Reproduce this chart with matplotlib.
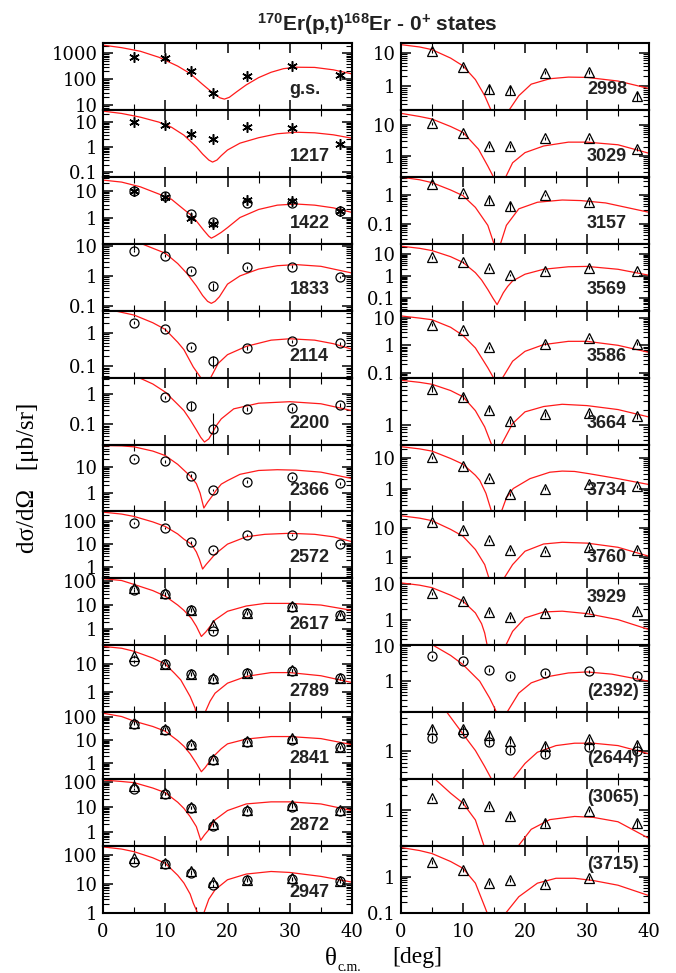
import numpy as np
import matplotlib
matplotlib.use("Agg")
import matplotlib.pyplot as plt
from matplotlib.ticker import LogLocator, NullFormatter, FuncFormatter, MultipleLocator

plt.rcParams["font.family"] = ["DejaVu Serif"]
plt.rcParams["mathtext.fontset"] = "custom"
plt.rcParams["mathtext.rm"] = "Liberation Serif"
plt.rcParams["mathtext.bf"] = "Liberation Sans:bold"

NAN = float("nan")

# measured c.m. angles (deg)
ANGLES = [5.0, 10.0, 14.2, 17.6, 23.2, 30.3, 38.0]

# ---------------- left column ----------------
gs_ylim = (6.5, 2500)
gs_ast = [750, 650, 200, 30, 130, 310, 150]
gs_th = [0, 3, 6, 9, 12, 14, 16, 17.6, 18.8, 19.5, 20.3, 21.5, 23, 25, 27, 29, 31, 34, 37, 40]
gs_fit = [2070, 1650, 1200, 700, 320, 165, 63, 30, 19, 17, 20, 33, 60, 115, 185, 255, 290, 285, 230, 160]

s1217_ylim = (0.065, 29)
s1217_ast = [10, 7.5, 3.1, 2.0, 6.0, 5.7, 1.25]
s1217_th = [0, 3, 6, 9, 11, 13, 15, 16, 17, 17.6, 18.3, 19, 20, 22, 25, 28, 31, 34, 37, 40]
s1217_fit = [26, 21, 15, 9.5, 6.0, 2.9, 1.0, 0.52, 0.3, 0.25, 0.3, 0.45, 0.75, 1.4, 2.3, 3.3, 3.8, 3.6, 3.0, 2.2]

s1422_ylim = (0.105, 33)
s1422_ast = [10, 6, 1.0, 0.56, 4.6, 4.2, 1.7]
s1422_circ = [10, 6.5, 1.4, 0.69, 3.4, 3.4, 1.7]
s1422_th = [0, 3, 6, 9, 11, 13, 14.2, 15.2, 16.2, 17, 17.4, 18, 19, 20, 22, 25, 28, 31, 34, 37, 40]
s1422_fit = [25, 21, 14, 7.5, 4.8, 2.0, 1.2, 0.65, 0.33, 0.2, 0.17, 0.2, 0.28, 0.42, 1.0, 2.0, 2.9, 3.2, 2.9, 2.3, 1.55]

s1833_ylim = (0.068, 12)
s1833_circ = [6.8, 4.8, 1.5, 0.46, 1.96, 2.05, 0.93]
s1833_err = [0.6, 0.45, 0.15, 0.13, 0.2, 0.2, 0.1]
s1833_th = [5, 6, 8, 10, 12, 13.5, 15, 16, 16.8, 17.4, 18, 18.7, 20, 22, 25, 28, 31, 35, 40]
s1833_fit = [15, 12.5, 8.5, 5.8, 2.6, 1.2, 0.46, 0.22, 0.14, 0.12, 0.14, 0.2, 0.53, 1.0, 1.7, 2.2, 2.4, 2.1, 1.25]

s2114_ylim = (0.045, 4.6)
s2114_circ = [2.0, 1.26, 0.37, 0.146, 0.35, 0.56, 0.49]
s2114_err = [0.2, 0.12, 0.04, 0.06, 0.04, 0.05, 0.05]
s2114_th = [0, 2, 5, 8, 10, 12, 13, 14.5, 15.7, 16.5, 17.3, 18.5, 20, 23, 27, 30, 34, 37, 40]
s2114_fit = [5.2, 4.5, 3.4, 2.0, 1.26, 0.52, 0.31, 0.094, 0.045, 0.005, 0.045, 0.12, 0.22, 0.39, 0.6, 0.66, 0.6, 0.47, 0.32]

s2200_ylim = (0.0215, 3.4)
s2200_circ = [NAN, 0.77, 0.41, 0.072, 0.32, 0.33, 0.43]
s2200_err = [NAN, 0.08, 0.12, 0.16, 0.05, 0.05, 0.05]
s2200_th = [5, 8, 10, 12, 13, 14, 15, 15.7, 16.3, 17, 17.5, 18.2, 19, 21, 25, 30, 35, 40]
s2200_fit = [4.0, 2.1, 1.14, 0.45, 0.28, 0.14, 0.065, 0.037, 0.026, 0.033, 0.049, 0.09, 0.15, 0.32, 0.49, 0.55, 0.47, 0.28]

s2366_ylim = (0.2, 71)
s2366_circ = [20, 16.4, 4.6, 1.33, 2.75, 4.0, 2.37]
s2366_th = [0, 3, 5, 8, 10, 12, 13, 14, 15, 15.6, 16.2, 16.8, 17.5, 18.2, 19, 20, 22, 25, 28, 31, 35, 40]
s2366_fit = [65, 63, 58, 40, 27, 12.5, 7.5, 4.5, 2.3, 1.0, 0.27, 0.45, 0.75, 1.3, 2.2, 3.0, 5.2, 7.3, 7.8, 7.5, 6.3, 3.6]

s2572_ylim = (0.31, 274)
s2572_circ = [85, 52, 11.8, 5.5, 24.8, 26, 10]
s2572_th = [0, 3, 5, 8, 10, 12, 13, 14.2, 15, 15.5, 16, 16.6, 17.2, 18, 20, 23, 26, 30, 34, 37, 40]
s2572_fit = [256, 210, 165, 95, 60, 28, 16.5, 10, 4.5, 2.1, 0.8, 1.3, 2.0, 3.6, 10, 21, 27, 30, 27, 21, 12.8]

s2617_ylim = (0.21, 129)
s2617_circ = [41, 27.6, 6, 0.8, 4.5, 8.2, 3.8]
s2617_tri = [52, 31, 6.5, 1.5, 4.8, 9, 4.0]
s2617_th = [0, 3, 5, 8, 10, 12, 13, 14.2, 15, 15.8, 16.5, 17, 18, 20, 23, 26, 30, 35, 40]
s2617_fit = [125, 105, 72, 40, 23.5, 10, 6, 2.8, 1.3, 0.49, 0.75, 1.1, 2.4, 5.5, 9.1, 11.7, 11.7, 10, 6]

s2789_ylim = (0.18, 46)
s2789_circ = [12.1, 9.7, 4.2, 2.8, 4.6, 5.7, 3.0]
s2789_tri = [18.4, 10, 4.4, 3.0, 4.8, 6.0, 3.1]
s2789_th = [0, 3, 5, 8, 10, 11.5, 12.5, 14, 14.8, 15.6, 16.5, 17.2, 18, 20, 23, 27, 30, 35, 40]
s2789_fit = [42, 36, 28, 16, 9.7, 4.5, 2.6, 0.66, 0.25, 0.02, 0.2, 0.45, 0.87, 2.0, 3.5, 4.8, 4.8, 3.7, 2.1]

s2841_ylim = (0.19, 154)
s2841_circ = [48, 27, 5.7, 1.3, 7.9, 10, 4.6]
s2841_tri = [55, 30, 6.2, 1.4, 8.3, 11.8, 4.8]
s2841_th = [0, 3, 5, 8, 10, 12, 13, 14, 15, 15.8, 16.4, 17, 17.7, 19, 20, 23, 27, 30, 35, 40]
s2841_fit = [140, 100, 63, 37, 23, 9, 5.1, 2.4, 0.93, 0.4, 0.6, 1.0, 1.8, 4.0, 6.5, 10.5, 13.5, 13.5, 11, 6]

s2872_ylim = (0.27, 124)
s2872_circ = [51, 32, 8.8, 1.7, 6.9, 10, 6.9]
s2872_tri = [67, 34, 9.5, 2.0, 7.5, 12, 7.3]
s2872_th = [0, 3, 5, 8, 10, 12, 13, 14, 15, 15.7, 16.3, 17, 18, 20, 23, 27, 30, 35, 40]
s2872_fit = [115, 100, 90, 55, 36, 15, 8.5, 4, 1.6, 0.46, 0.75, 1.2, 3.0, 7, 12.8, 15.5, 15.5, 12.8, 7]

s2947_ylim = (1, 203)
s2947_circ = [59, 49, 23.5, 9, 13.4, 14.8, 12.3]
s2947_tri = [77, 55, 27, 12, 14, 16, 13]
s2947_th = [0, 3, 5, 8, 10, 12, 13, 14, 14.5, 15.2, 15.7, 16.2, 17, 18, 20, 23, 27, 30, 35, 40]
s2947_fit = [190, 160, 130, 80, 52, 20, 10.8, 4.5, 2.2, 1.0, 0.05, 1.0, 3.0, 6.3, 14, 22, 27, 25, 18.3, 11.6]

# ---------------- right column ----------------
s2998_ylim = (0.2, 19.7)
s2998_tri = [11.2, 3.9, 0.83, 0.8, 2.6, 2.7, 0.53]
s2998_err = [1.2, 0.4, 0.25, 0.25, 0.3, 0.3, 0.15]
s2998_th = [0, 3, 5, 8, 10, 12, 13.5, 14.5, 15.8, 17.45, 19, 21, 24, 27, 30, 35, 40]
s2998_fit = [17.6, 15, 12.5, 7, 4.1, 1.6, 0.53, 0.2, 0.005, 0.2, 0.53, 1.17, 1.7, 1.9, 1.86, 1.45, 0.87]

s3029_ylim = (0.21, 31)
s3029_tri = [11.6, 5.5, 2.1, 2.1, 3.8, 3.8, 1.7]
s3029_th = [0, 3, 5, 8, 10, 12.5, 14, 14.9, 15.9, 16.9, 18, 20, 23, 27, 30, 35, 40]
s3029_fit = [24, 19, 15.7, 9, 5.8, 1.65, 0.47, 0.21, 0.005, 0.21, 0.6, 1.28, 2.1, 2.8, 2.8, 2.3, 1.22]

s3157_ylim = (0.02, 4.3)
s3157_tri = [2.5, 1.17, 0.67, 0.43, 1.0, 0.56, NAN]
s3157_err = [0.2, 0.12, 0.2, 0.16, 0.1, 0.1, NAN]
s3157_th = [0, 3, 5, 8, 10, 12, 14, 15.0, 15.5, 16.05, 17, 19, 22, 26, 29, 33, 40]
s3157_fit = [4.2, 3.4, 2.7, 1.5, 0.95, 0.37, 0.088, 0.02, 0.001, 0.02, 0.088, 0.33, 0.56, 0.67, 0.64, 0.53, 0.25]

s3569_ylim = (0.026, 29)
s3569_tri = [7, 4.4, 2.2, 1.07, 1.7, 2.4, 1.7]
s3569_th = [0, 3, 5, 8, 10, 12, 13, 14, 14.8, 15.5, 16, 16.5, 17.2, 18, 20, 23, 27, 30, 35, 40]
s3569_fit = [22.6, 18, 14.2, 7.5, 4.1, 1.4, 0.65, 0.24, 0.1, 0.049, 0.09, 0.17, 0.33, 0.59, 1.19, 2.0, 2.6, 2.7, 2.0, 1.07]

s3586_ylim = (0.065, 18.7)
s3586_tri = [5.7, 3.7, 0.84, NAN, 1.15, 1.87, 1.15]
s3586_th = [0, 3, 5, 8, 10, 12, 14, 14.9, 15.6, 16.4, 18, 20, 23, 27, 30, 35, 40]
s3586_fit = [12, 10, 8.7, 4.6, 2.3, 0.8, 0.15, 0.065, 0.002, 0.065, 0.26, 0.6, 1.06, 1.4, 1.4, 1.0, 0.55]

s3664_ylim = (0.4, 8.7)
s3664_tri = [5.2, 3.6, 2.0, 1.18, 1.6, 1.7, 1.47]
s3664_th = [0, 3, 5, 8, 10, 12, 13.5, 14.6, 15.4, 16.2, 18, 20, 23, 26, 30, 35, 40]
s3664_fit = [7.7, 7.0, 6.4, 4.8, 3.6, 1.9, 0.9, 0.4, 0.01, 0.4, 1.05, 1.8, 2.3, 2.55, 2.4, 2.0, 1.42]

s3734_ylim = (0.18, 27)
s3734_tri = [10.4, 5.4, 2.2, 0.65, 1.0, 1.45, 1.18]
s3734_th = [0, 3, 5, 8, 10, 12, 12.7, 13.7, 14.6, 15.4, 16.2, 17, 18.1, 20.8, 24, 26, 28, 30.3, 35, 40]
s3734_fit = [23, 19.5, 16.5, 9.5, 6.2, 2.7, 1.85, 0.7, 0.18, 0.005, 0.18, 0.5, 1.0, 2.1, 3.4, 3.7, 3.6, 3.05, 2.1, 1.35]

s3760_ylim = (0.18, 37.5)
s3760_tri = [15.7, 8.8, 3.75, 1.8, 1.57, 2.2, 1.8]
s3760_th = [0, 3, 5, 8, 10, 12, 13.5, 14.2, 15.4, 16.6, 18, 20, 23, 26, 30, 35, 40]
s3760_fit = [26.6, 22, 18, 9, 5.2, 1.8, 0.54, 0.18, 0.003, 0.18, 0.54, 1.57, 2.8, 3.2, 3.0, 2.15, 1.05]

s3929_ylim = (0.2, 14.7)
s3929_tri = [5.6, 3.4, 1.68, 1.24, 1.6, 1.79, 1.79]
s3929_th = [0, 3, 5, 8, 10, 12, 13, 13.5, 13.9, 15.3, 16.9, 18, 20, 23, 26, 30, 35, 40]
s3929_fit = [11, 9.5, 8.1, 5, 3.4, 1.6, 0.8, 0.44, 0.2, 0.002, 0.2, 0.49, 1.16, 1.7, 1.79, 1.53, 1.04, 0.55]

s2392_ylim = (0.13, 10.7)
s2392_circ = [5.2, 3.7, 2.15, 1.45, 1.73, 1.93, 1.39]
s2392_th = [4, 5.2, 8, 10, 12.7, 14.3, 15.1, 15.4, 16.2, 17.1, 19, 21, 24, 27, 30, 34, 40]
s2392_fit = [14, 10.7, 5.5, 3.0, 1.0, 0.33, 0.17, 0.13, 0.003, 0.13, 0.46, 0.9, 1.39, 1.73, 1.85, 1.6, 1.0]

s2644_ylim = (0.3, 5)
s2644_tri = [2.5, 2.5, 1.93, 1.52, 1.23, 1.6, 1.27]
s2644_circ = [1.68, 2.1, 1.46, 1.04, 0.87, 1.15, 1.0]
s2644_th = [6, 7.4, 10, 12, 13.5, 14.6, 16.3, 18, 20, 22, 25, 28, 31, 35, 40]
s2644_fit = [6, 5, 2.0, 1.0, 0.51, 0.3, 0.01, 0.3, 0.58, 0.93, 1.23, 1.36, 1.36, 1.23, 0.87]

s3065_ylim = (0.19, 4.1)
s3065_tri = [1.71, 1.4, 1.17, 0.76, 0.56, 0.97, 0.54]
s3065_err = [0.12, 0.12, 0.15, 0.1, 0.1, 0.08, 0.1]
s3065_th = [4.5, 5.5, 8, 10, 12, 13.4, 16, 18.9, 21, 24, 28, 31, 35, 40]
s3065_fit = [5, 4.1, 2.15, 1.36, 0.63, 0.19, 0.002, 0.19, 0.41, 0.64, 0.74, 0.71, 0.58, 0.27]

s3715_ylim = (0.1, 6.9)
s3715_tri = [2.6, 1.52, 0.66, 0.81, 0.63, 0.9, NAN]
s3715_th = [0, 3, 5, 8, 10, 12, 13.5, 13.9, 15.4, 16.9, 19, 22, 25, 28, 31, 35, 40]
s3715_fit = [6.3, 5.2, 4.3, 2.6, 1.69, 0.66, 0.15, 0.1, 0.001, 0.1, 0.28, 0.66, 0.9, 0.9, 0.78, 0.58, 0.3]

# panel table: (label, label at top?, ylim, [(marker kind, values, errors)], curve angles, curve values)
LEFT = [
    ("g.s.", False, gs_ylim, [("ast", gs_ast, None)], gs_th, gs_fit),
    ("1217", False, s1217_ylim, [("ast", s1217_ast, None)], s1217_th, s1217_fit),
    ("1422", False, s1422_ylim, [("circ", s1422_circ, None), ("ast", s1422_ast, None)], s1422_th, s1422_fit),
    ("1833", False, s1833_ylim, [("circ", s1833_circ, s1833_err)], s1833_th, s1833_fit),
    ("2114", False, s2114_ylim, [("circ", s2114_circ, s2114_err)], s2114_th, s2114_fit),
    ("2200", False, s2200_ylim, [("circ", s2200_circ, s2200_err)], s2200_th, s2200_fit),
    ("2366", False, s2366_ylim, [("circ", s2366_circ, None)], s2366_th, s2366_fit),
    ("2572", False, s2572_ylim, [("circ", s2572_circ, None)], s2572_th, s2572_fit),
    ("2617", False, s2617_ylim, [("circ", s2617_circ, None), ("tri", s2617_tri, None)], s2617_th, s2617_fit),
    ("2789", False, s2789_ylim, [("circ", s2789_circ, None), ("tri", s2789_tri, None)], s2789_th, s2789_fit),
    ("2841", False, s2841_ylim, [("circ", s2841_circ, None), ("tri", s2841_tri, None)], s2841_th, s2841_fit),
    ("2872", False, s2872_ylim, [("circ", s2872_circ, None), ("tri", s2872_tri, None)], s2872_th, s2872_fit),
    ("2947", False, s2947_ylim, [("circ", s2947_circ, None), ("tri", s2947_tri, None)], s2947_th, s2947_fit),
]
RIGHT = [
    ("2998", False, s2998_ylim, [("tri", s2998_tri, s2998_err)], s2998_th, s2998_fit),
    ("3029", False, s3029_ylim, [("tri", s3029_tri, None)], s3029_th, s3029_fit),
    ("3157", False, s3157_ylim, [("tri", s3157_tri, s3157_err)], s3157_th, s3157_fit),
    ("3569", False, s3569_ylim, [("tri", s3569_tri, None)], s3569_th, s3569_fit),
    ("3586", False, s3586_ylim, [("tri", s3586_tri, None)], s3586_th, s3586_fit),
    ("3664", False, s3664_ylim, [("tri", s3664_tri, None)], s3664_th, s3664_fit),
    ("3734", False, s3734_ylim, [("tri", s3734_tri, None)], s3734_th, s3734_fit),
    ("3760", False, s3760_ylim, [("tri", s3760_tri, None)], s3760_th, s3760_fit),
    ("3929", True, s3929_ylim, [("tri", s3929_tri, None)], s3929_th, s3929_fit),
    ("(2392)", False, s2392_ylim, [("circ", s2392_circ, None)], s2392_th, s2392_fit),
    ("(2644)", False, s2644_ylim, [("circ", s2644_circ, None), ("tri", s2644_tri, None)], s2644_th, s2644_fit),
    ("(3065)", True, s3065_ylim, [("tri", s3065_tri, s3065_err)], s3065_th, s3065_fit),
    ("(3715)", True, s3715_ylim, [("tri", s3715_tri, None)], s3715_th, s3715_fit),
]

W, H = 676, 973
fig = plt.figure(figsize=(W / 100, H / 100), dpi=100)


def fx(x):
    return x / W


def fy(y):
    return 1 - y / H


MARKERS = {
    "circ": dict(marker="o", ms=6.5, mew=0.9),
    "tri": dict(marker="^", ms=6.5, mew=0.9),
    "ast": dict(marker=(6, 2, 0), ms=7.5, mew=1.1),
}


def tick_fmt(v, pos):
    return f"{v:g}"


def draw_panel(ax, panel, bottom):
    label, top_label, ylim, series, th, fit = panel
    ax.plot(th, fit, color="#ff1a1a", lw=0.9, zorder=2)
    for kind, vals, errs in series:
        v = np.array(vals, dtype=float)
        e = 0.12 * v if errs is None else np.array(errs, dtype=float)
        ax.errorbar(ANGLES, v, yerr=e, linestyle="none", color="black",
                    mfc="none", mec="black", elinewidth=0.8, capsize=0,
                    zorder=3, **MARKERS[kind])
    ax.set_yscale("log")
    ax.set_xlim(0, 40)
    ax.set_ylim(*ylim)
    ax.xaxis.set_major_locator(MultipleLocator(10))
    ax.xaxis.set_minor_locator(MultipleLocator(5))
    ax.yaxis.set_major_locator(LogLocator(base=10, numticks=20))
    ax.yaxis.set_minor_locator(LogLocator(base=10, subs=np.arange(2, 10), numticks=20))
    ax.yaxis.set_minor_formatter(NullFormatter())
    ax.yaxis.set_major_formatter(FuncFormatter(tick_fmt))
    ax.tick_params(which="both", direction="in", top=True, right=True,
                   labelsize=13, labelbottom=bottom)
    ax.tick_params(which="major", length=7, width=1.1)
    ax.tick_params(which="minor", length=4.3, width=0.8)
    ax.tick_params(axis="x", pad=7)
    ax.tick_params(axis="y", pad=4)
    for sp in ax.spines.values():
        sp.set_linewidth(1.5)
    ypos = 0.72 if top_label else 0.31
    ax.text(0.75, ypos, label, transform=ax.transAxes, ha="left", va="center",
            fontsize=13, fontweight="bold", family=["Liberation Sans", "DejaVu Sans"],
            color="#222222", zorder=4)


top_px, bot_px = 43, 913
ph = (bot_px - top_px) / 13
cols = [(103, 249, LEFT), (401, 248, RIGHT)]
for x0, w, panels in cols:
    for i, panel in enumerate(panels):
        y_top = top_px + i * ph
        ax = fig.add_axes([fx(x0), fy(y_top + ph), w / W, ph / H])
        draw_panel(ax, panel, bottom=(i == len(panels) - 1))

# title
fig.text(fx(377), fy(31), r"$\mathbf{^{170}}$Er(p,t)$\mathbf{^{168}}$Er - 0$\mathbf{^{+}}$ states",
         ha="center", va="baseline", fontsize=15, fontweight="bold",
         family=["Liberation Sans", "DejaVu Sans"], color="#222222")

# axis titles
fig.text(fx(28), fy(478), "dσ/dΩ   [μb/sr]", rotation=90, ha="center", va="center",
         fontsize=18, family=["Liberation Serif", "DejaVu Serif"])
fig.text(fx(325), fy(965), "θ", ha="left", va="baseline", fontsize=18,
         family=["Liberation Serif", "DejaVu Serif"])
fig.text(fx(338), fy(971), "c.m.", ha="left", va="baseline", fontsize=10,
         family=["Liberation Serif", "DejaVu Serif"])
fig.text(fx(392), fy(963), "[deg]", ha="left", va="baseline", fontsize=17,
         family=["Liberation Serif", "DejaVu Serif"])

fig.savefig("out.png", dpi=100)
